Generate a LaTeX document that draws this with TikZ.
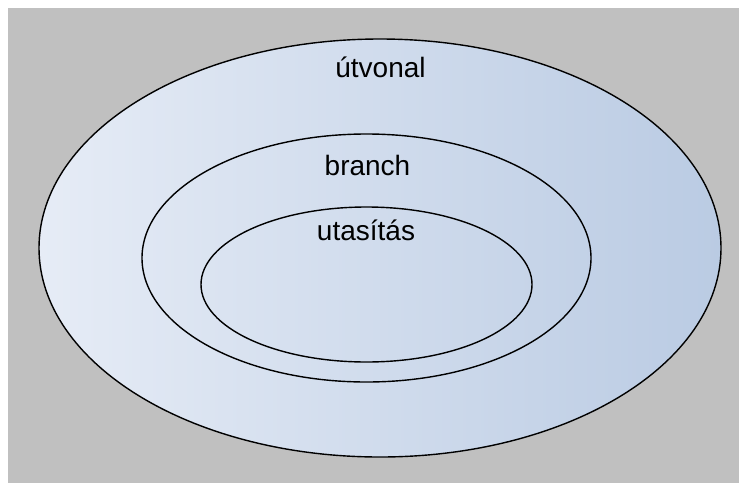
\documentclass[tikz,border=0pt]{standalone}
\usepackage{fontspec}
\setmainfont{Liberation Sans}
\definecolor{bggrey}{HTML}{C0C0C0}
\definecolor{lightblue}{HTML}{E6ECF6}
\definecolor{darkblue}{HTML}{BACBE3}

\begin{document}
\begin{tikzpicture}[x=1pt,y=-1pt,font=\fontsize{28}{34}\selectfont]
				\fill[white] (0,0) rectangle (739,483);
				\fill[bggrey] (8,8) rectangle (739,483);
				\shade[left color=lightblue,right color=darkblue] (380,248) ellipse (341 and 209);
				\draw[line width=1.4pt] (380,248) ellipse (341 and 209);
				\draw[line width=1.4pt] (366.5,258) ellipse (224.5 and 124);
				\draw[line width=1.4pt] (366.5,284.5) ellipse (165.5 and 77.5);
				\node[anchor=base] (path) at (380.5, 77) {útvonal};
				\node[anchor=base] (branch) at (367.5, 175) {branch};
				\node[anchor=base] (stmt) at (366, 240) {utasítás};
			\end{tikzpicture}
\end{document}
